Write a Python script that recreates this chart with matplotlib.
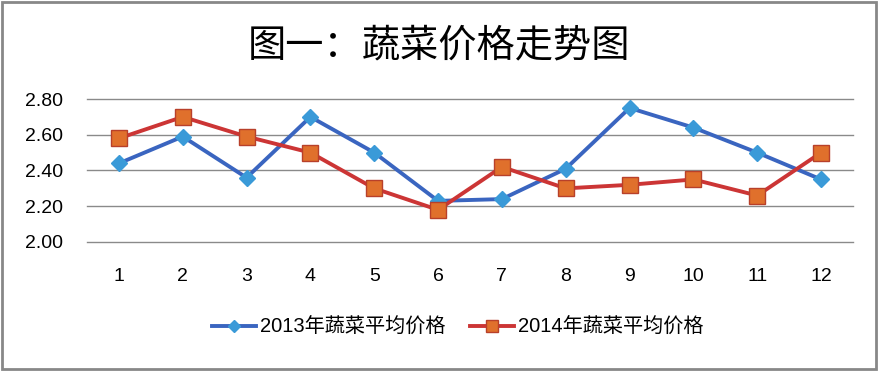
import matplotlib
matplotlib.use("Agg")
import matplotlib.pyplot as plt
from matplotlib.patches import Rectangle

# Data
months = [1, 2, 3, 4, 5, 6, 7, 8, 9, 10, 11, 12]
price_2013 = [2.44, 2.59, 2.36, 2.70, 2.50, 2.23, 2.24, 2.41, 2.75, 2.64, 2.50, 2.35]
price_2014 = [2.58, 2.70, 2.59, 2.50, 2.30, 2.18, 2.42, 2.30, 2.32, 2.35, 2.26, 2.50]
y_ticks = [2.00, 2.20, 2.40, 2.60, 2.80]
title = "图一：蔬菜价格走势图"
label_2013 = "2013年蔬菜平均价格"
label_2014 = "2014年蔬菜平均价格"

plt.rcParams['font.family'] = ['Liberation Sans', 'Noto Sans CJK SC', 'DejaVu Sans']

fig = plt.figure(figsize=(8.79, 3.74), dpi=100)
ax = fig.add_axes([87/879, 1-242/374, (853-87)/879, (242-99)/374])

# Gridlines (keep the edge ones whole)
for yv in y_ticks:
    ax.axhline(yv, color="#8a8a8a", lw=1.0, zorder=1, clip_on=False)

ax.plot(months, price_2013, color="#3a65c0", lw=2.8, marker="D", markersize=8.5,
        markerfacecolor="#3a9ad8", markeredgecolor="#3a9ad8", label=label_2013, zorder=3)
ax.plot(months, price_2014, color="#cc3535", lw=2.8, marker="s", markersize=12,
        markerfacecolor="#e0702c", markeredgecolor="#b8402a", markeredgewidth=1.0,
        label=label_2014, zorder=4)

ax.set_xlim(0.5, 12.5)
ax.set_ylim(2.0, 2.8)
ax.set_xticks(months)
ax.set_xticklabels([str(m) for m in months])
ax.set_yticks(y_ticks)
ax.set_yticklabels([f"{v:.2f}" for v in y_ticks])
ax.tick_params(axis="x", length=0, pad=19, labelsize=14)
ax.tick_params(axis="y", length=0, pad=17, labelsize=14)
for s in ax.spines.values():
    s.set_visible(False)
ax.set_facecolor("none")

fig.text(0.5, 1-46/374, title, ha="center", va="center", fontsize=27.5,
         family=['Noto Sans CJK SC', 'DejaVu Sans'])

leg = fig.legend(loc="center", bbox_to_anchor=(458/879, 1-327/374), ncol=2, frameon=False,
                 handlelength=2.2, handletextpad=0.2, columnspacing=1.2, markerscale=0.75,
                 prop={'family': ['Liberation Sans', 'Noto Sans CJK SC'], 'size': 14.5})

# Outer border
fig.patches.append(Rectangle((2/879, 1-369/374), 874/879, 367/374, transform=fig.transFigure,
                             fill=False, edgecolor="#888888", lw=2.0))

fig.savefig("out.png", dpi=100)
